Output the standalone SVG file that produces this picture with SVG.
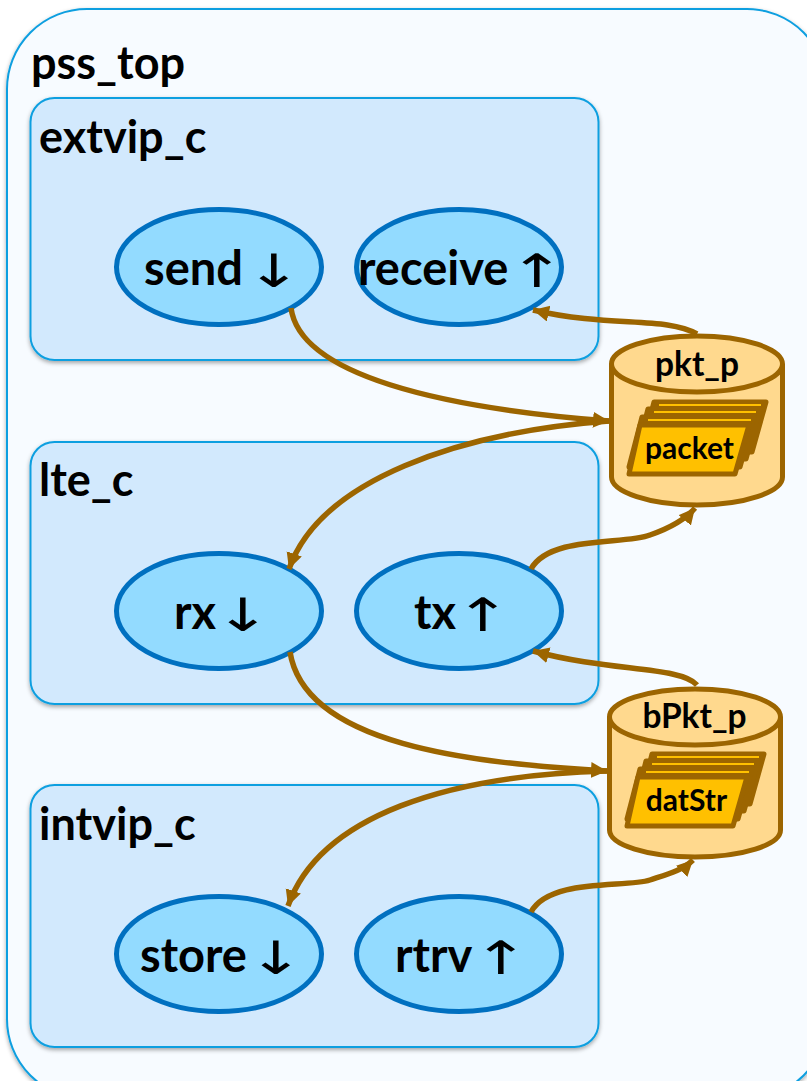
<svg xmlns="http://www.w3.org/2000/svg" width="807" height="1081" viewBox="0 0 807 1081">
<style>
text{font-family:"Lato","Carlito","Open Sans",sans-serif;font-weight:700;fill:#000}
.c{font-size:45px}
.n{font-size:47px}
.p{font-size:33.500px;text-anchor:middle}
.i{font-size:30px;text-anchor:middle}
.a{font-family:"DejaVu Sans",sans-serif;font-weight:400;font-size:46px;text-anchor:middle}
.box{fill:#d2e9fd;stroke:#0e9fe0;stroke-width:2}
.top{fill:#f7fbff;stroke:#0e9fe0;stroke-width:2}
.el{fill:#93dbff;stroke:#0070c0;stroke-width:5}
.cy{fill:#ffd98e;stroke:#9c6500;stroke-width:5;stroke-linejoin:round}
.card{fill:#9c6500;stroke:#9c6500;stroke-width:5;stroke-linejoin:round}
.front{fill:#ffc000;stroke:#9c6500;stroke-width:5;stroke-linejoin:round}
.ln{stroke:#ffc000;stroke-width:2;fill:none}
.w{fill:none;stroke:#9c6500;stroke-width:5.500;marker-end:url(#h)}
</style>
<defs>
<marker id="h" markerUnits="userSpaceOnUse" markerWidth="20" markerHeight="18" refX="16" refY="8" orient="auto"><path d="M0 0L16 8L0 16z" fill="#9c6500"/></marker>
<filter id="s" x="-5%" y="-5%" width="110%" height="110%"><feDropShadow dx="0" dy="2" stdDeviation="2" flood-color="#000" flood-opacity=".35"/></filter>
</defs>
<rect width="807" height="1081" fill="#fff"/>
<g id="pss_top"><rect class="top" x="7" y="9" width="820" height="1090" rx="80" filter="url(#s)"/><text class="c" x="31" y="79">pss_top</text></g>
<g id="extvip_c"><rect class="box" x="30.500" y="98" width="568" height="262" rx="24" filter="url(#s)"/><text class="c" x="39" y="153">extvip_c</text></g>
<g id="lte_c"><rect class="box" x="30.500" y="442" width="568" height="262" rx="24" filter="url(#s)"/><text class="c" x="39" y="496">lte_c</text></g>
<g id="intvip_c"><rect class="box" x="30.500" y="785" width="568" height="262" rx="24" filter="url(#s)"/><text class="c" x="39" y="840">intvip_c</text></g>
<g id="send"><ellipse class="el" cx="219" cy="267" rx="102.500" ry="57.500"/><text class="n" x="144" y="285">send</text><text class="a" transform="translate(274 287) scale(1.45 1)">↓</text></g>
<g id="receive"><ellipse class="el" cx="459" cy="267" rx="102.500" ry="57.500"/><text class="n" x="358" y="285">receive</text><text class="a" transform="translate(537 287) scale(1.45 1)">↑</text></g>
<g id="rx"><ellipse class="el" cx="219" cy="611" rx="102.500" ry="57.500"/><text class="n" x="174" y="629">rx</text><text class="a" transform="translate(243 631) scale(1.45 1)">↓</text></g>
<g id="tx"><ellipse class="el" cx="459" cy="611" rx="102.500" ry="57.500"/><text class="n" x="414" y="629">tx</text><text class="a" transform="translate(483 631) scale(1.45 1)">↑</text></g>
<g id="store"><ellipse class="el" cx="219" cy="954" rx="102.500" ry="57.500"/><text class="n" x="140" y="972">store</text><text class="a" transform="translate(276 974) scale(1.45 1)">↓</text></g>
<g id="rtrv"><ellipse class="el" cx="459" cy="954" rx="102.500" ry="57.500"/><text class="n" x="395" y="972">rtrv</text><text class="a" transform="translate(501 974) scale(1.45 1)">↑</text></g>
<g id="connectors">
<path class="w" d="M697 334C665 316 610 328 533 310"/>
<path class="w" d="M291 308C300 375 440 408 609 421"/>
<path class="w" d="M609 421C460 432 320 480 289 569"/>
<path class="w" d="M531 569C550 535 625 545 650 535C670 528 685 520 695 508"/>
<path class="w" d="M697 685C680 666 610 672 533 651"/>
<path class="w" d="M290 652C305 745 470 763 607 771"/>
<path class="w" d="M607 771C450 775 320 815 288 906"/>
<path class="w" d="M531 912C550 878 625 888 650 880C668 874 683 870 693 860"/>
</g>
<g id="pkt_p">
<path class="cy" d="M611.500 364V477C611.500 492 650 505 697 505S782.500 492 782.500 477V364"/>
<ellipse class="cy" cx="697" cy="364" rx="85.500" ry="28"/>
<text class="p" x="697" y="376">pkt_p</text>
<path class="card" d="M654 402H766L752 452H641z"/>
<path class="card" d="M648 409H760L746 459H635z"/>
<path class="card" d="M642 417H754L740 467H629z"/>
<path class="ln" d="M659 405H761M654 412H756M648 420H751"/>
<path class="front" d="M640 425H749L735 474H629z"/>
<text class="i" x="689.500" y="459">packet</text>
</g>
<g id="bPkt_p">
<path class="cy" d="M609.500 717V830C609.500 845 648 857 695 857S780.500 845 780.500 830V717"/>
<ellipse class="cy" cx="695" cy="717" rx="85.500" ry="28"/>
<text class="p" x="694.500" y="728">bPkt_p</text>
<path class="card" d="M652 754H764L750 804H639z"/>
<path class="card" d="M646 761H758L744 811H633z"/>
<path class="card" d="M640 769H752L738 819H627z"/>
<path class="ln" d="M657 757H759M652 764H754M646 772H749"/>
<path class="front" d="M638 777H747L733 826H627z"/>
<text class="i" x="686.500" y="811">datStr</text>
</g>
</svg>
